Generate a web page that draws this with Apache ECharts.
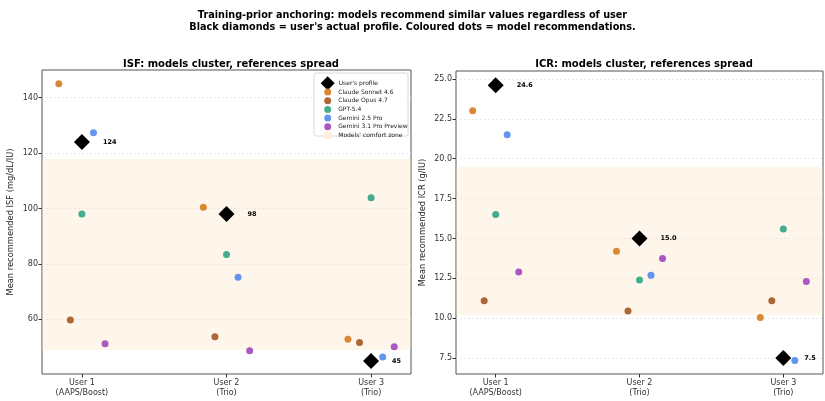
<!DOCTYPE html>
<html>
<head>
<meta charset="utf-8">
<script src="https://cdn.jsdelivr.net/npm/echarts@6/dist/echarts.min.js"></script>
<style>
  html, body { margin: 0; padding: 0; background: #fff; }
  #chart { width: 825px; height: 401px; }
</style>
</head>
<body>
<div id="chart"></div>
<script>
// Users on the x axis
const users = ['User 1\n(AAPS/Boost)', 'User 2\n(Trio)', 'User 3\n(Trio)'];
const modelNames = ['Claude Sonnet 4.6', 'Claude Opus 4.7', 'GPT-5.4', 'Gemini 2.5 Pro', 'Gemini 3.1 Pro Preview'];

// ISF (mg/dL/IU)
const isfProfile = [124, 98, 45];
const isfSonnet = [145, 100.5, 52.8];
const isfOpus = [59.8, 53.7, 51.7];
const isfGpt = [98, 83.4, 103.9];
const isfGemini25 = [127.4, 75.2, 46.4];
const isfGemini31 = [51.2, 48.7, 50.1];
const isfComfortZone = [49, 118];
const isfTicks = [60, 80, 100, 120, 140];

// ICR (g/IU)
const icrProfile = [24.6, 15.0, 7.5];
const icrSonnet = [23.0, 14.2, 10.05];
const icrOpus = [11.1, 10.45, 11.1];
const icrGpt = [16.5, 12.4, 15.6];
const icrGemini25 = [21.5, 12.7, 7.35];
const icrGemini31 = [12.9, 13.75, 12.3];
const icrComfortZone = [10.2, 19.5];
const icrTicks = [7.5, 10, 12.5, 15, 17.5, 20, 22.5, 25];

const modelColors = ['#d9822b', '#a85f2b', '#3aa98a', '#5b8ff0', '#a84fbf'];
const zoneColor = 'rgba(251, 226, 190, 0.32)';
const FONT = 'DejaVu Sans';
const DODGE = 0.08;

const chart = echarts.init(document.getElementById('chart'), null, { renderer: 'canvas' });

function panelSeries(idx, profile, models, zone, fmt) {
  const out = [];
  out.push({
    name: "Models' comfort zone",
    type: 'scatter',
    xAxisIndex: idx, yAxisIndex: idx,
    data: [],
    itemStyle: { color: '#fdeedd', opacity: 1 },
    silent: true,
    markArea: {
      silent: true,
      itemStyle: { color: zoneColor },
      data: [[{ yAxis: zone[0] }, { yAxis: zone[1] }]]
    },
    z: 1
  });
  models.forEach((vals, m) => {
    out.push({
      name: modelNames[m],
      type: 'scatter',
      xAxisIndex: idx, yAxisIndex: idx,
      symbolSize: 7,
      itemStyle: { color: modelColors[m], opacity: 0.95 },
      data: vals.map((v, i) => [i + (m - 2) * DODGE, v]),
      z: 3
    });
  });
  out.push({
    name: "User's profile",
    type: 'scatter',
    xAxisIndex: idx, yAxisIndex: idx,
    symbol: 'diamond',
    symbolSize: 16,
    itemStyle: { color: '#000', opacity: 1 },
    data: profile.map((v, i) => [i, v]),
    label: {
      show: true, position: 'right', distance: 13,
      fontFamily: FONT, fontSize: 6.5, fontWeight: 'bold', color: '#000',
      formatter: p => fmt(p.value[1])
    },
    z: 4
  });
  return out;
}

function xAxisFor(idx) {
  return {
    type: 'value', gridIndex: idx, min: -0.276, max: 2.276,
    axisLine: { show: false, onZero: false },
    axisTick: { show: true, customValues: [0, 1, 2], length: 3.5, lineStyle: { color: '#333' } },
    axisLabel: {
      customValues: [0, 1, 2], fontFamily: FONT, fontSize: 8, color: '#333',
      lineHeight: 10, margin: 4,
      formatter: v => users[Math.round(v)]
    },
    splitLine: { show: false }
  };
}

function yAxisFor(idx, min, max, ticks, name, fmt, gap) {
  return {
    type: 'value', gridIndex: idx, min: min, max: max,
    name: name, nameLocation: 'middle', nameGap: gap,
    nameTextStyle: { fontFamily: FONT, fontSize: 8.3, color: '#222' },
    axisLine: { show: false, onZero: false },
    axisTick: { show: true, customValues: ticks, length: 3.5, lineStyle: { color: '#333' } },
    axisLabel: { customValues: ticks, fontFamily: FONT, fontSize: 8, color: '#333', margin: 4, formatter: fmt },
    splitLine: { show: true, lineStyle: { color: '#e4e4e4', type: [2, 2], width: 0.8 } }
  };
}

const titleStyle = { fontFamily: FONT, fontSize: 10, fontWeight: 'bold', color: '#000' };

const option = {
  animation: false,
  backgroundColor: '#fff',
  title: [
    {
      text: "Training-prior anchoring: models recommend similar values regardless of user\nBlack diamonds = user's actual profile. Coloured dots = model recommendations.",
      left: 'center', top: 5,
      textStyle: Object.assign({}, titleStyle, { fontSize: 9.7, lineHeight: 11.5 })
    },
    { text: 'ISF: models cluster, references spread', left: 226, top: 54, textAlign: 'center', textStyle: titleStyle },
    { text: 'ICR: models cluster, references spread', left: 639, top: 54, textAlign: 'center', textStyle: titleStyle }
  ],
  grid: [
    { left: 42, right: 414, top: 70, bottom: 27, show: true, borderColor: '#555', borderWidth: 1, backgroundColor: 'transparent' },
    { left: 456, right: 2, top: 71, bottom: 27, show: true, borderColor: '#555', borderWidth: 1, backgroundColor: 'transparent' }
  ],
  xAxis: [xAxisFor(0), xAxisFor(1)],
  yAxis: [
    yAxisFor(0, 40.3, 150, isfTicks, 'Mean recommended ISF (mg/dL/IU)', v => String(v), 27),
    yAxisFor(1, 6.5, 25.5, icrTicks, 'Mean recommended ICR (g/IU)', v => v.toFixed(1), 29)
  ],
  legend: [
    {
      data: [{ name: "User's profile", icon: 'diamond' }],
      left: 315.7, top: 71.3, orient: 'vertical',
      itemWidth: 14, itemHeight: 14,
      selectedMode: false, z: 10,
      textStyle: { fontFamily: FONT, fontSize: 6, color: '#222', padding: [0, 0, 0, -1] }
    },
    {
      data: modelNames.map(n => ({ name: n, icon: 'circle' }))
        .concat([{ name: "Models' comfort zone", icon: 'rect' }]),
      left: 319.2, top: 83.5, orient: 'vertical',
      itemWidth: 7, itemHeight: 7, itemGap: 1.7,
      selectedMode: false, z: 10,
      textStyle: { fontFamily: FONT, fontSize: 6, color: '#222', padding: [0, 0, 0, 2] }
    }
  ],
  graphic: [{
    type: 'rect', z: 9,
    shape: { x: 314, y: 73, width: 94, height: 63, r: 2 },
    style: { fill: 'rgba(255,255,255,0.85)', stroke: '#d0d0d0', lineWidth: 0.8 }
  }],
  series: [].concat(
    panelSeries(0, isfProfile, [isfSonnet, isfOpus, isfGpt, isfGemini25, isfGemini31], isfComfortZone, v => String(Math.round(v))),
    panelSeries(1, icrProfile, [icrSonnet, icrOpus, icrGpt, icrGemini25, icrGemini31], icrComfortZone, v => v.toFixed(1))
  )
};

chart.setOption(option);
</script>
</body>
</html>
